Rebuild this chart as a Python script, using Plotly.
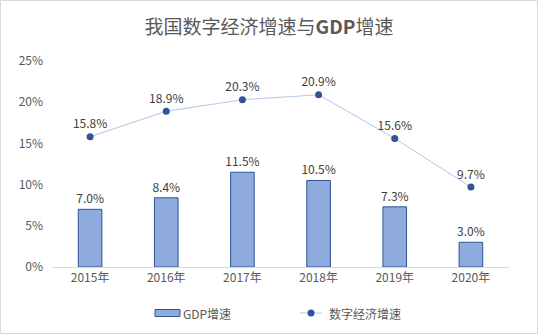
import plotly.graph_objects as go

years = ["2015年", "2016年", "2017年", "2018年", "2019年", "2020年"]
gdp_growth = [7.0, 8.4, 11.5, 10.5, 7.3, 3.0]
digital_growth = [15.8, 18.9, 20.3, 20.9, 15.6, 9.7]
y_ticks = [0, 5, 10, 15, 20, 25]

FONT = "Noto Sans CJK SC, Microsoft YaHei, sans-serif"
W, H = 538, 334
ML, MR, MT, MB = 52, 29, 61, 67
pw, ph = W - ML - MR, H - MT - MB

BAR_FILL, BAR_EDGE = "#8FAADC", "#2F5597"
LINE_COLOR, MARKER_COLOR = "#B4C7E7", "#2F5597"


def px_x(x):
    return (x - ML) / pw


def px_y(y):
    return (H - MB - y) / ph


fig = go.Figure()
fig.add_trace(go.Bar(
    x=years, y=gdp_growth, name="GDP增速",
    marker=dict(color=BAR_FILL, line=dict(color=BAR_EDGE, width=1)),
    width=0.31,
    text=[f"{v:.1f}%" for v in gdp_growth], textposition="outside",
    constraintext="none",
    textfont=dict(size=12, color="#404040", family=FONT),
    cliponaxis=False,
))
fig.add_trace(go.Scatter(
    x=years, y=digital_growth, name="数字经济增速",
    mode="lines+markers+text",
    line=dict(color=LINE_COLOR, width=1),
    marker=dict(color=MARKER_COLOR, size=7),
    text=[f"{v:.1f}%" for v in digital_growth], textposition="top center",
    textfont=dict(size=12, color="#404040", family=FONT),
    cliponaxis=False,
))

# legend drawn as paper-anchored swatches and labels
ly = 313
legend_shapes = [
    dict(type="rect", xref="paper", yref="paper",
         x0=px_x(155), x1=px_x(180), y0=px_y(ly + 3.5), y1=px_y(ly - 3.5),
         fillcolor=BAR_FILL, line=dict(color=BAR_EDGE, width=1)),
    dict(type="line", xref="paper", yref="paper",
         x0=px_x(300), x1=px_x(322), y0=px_y(ly), y1=px_y(ly),
         line=dict(color=LINE_COLOR, width=1)),
    dict(type="circle", xref="paper", yref="paper",
         x0=px_x(307.5), x1=px_x(314.5), y0=px_y(ly + 3.5), y1=px_y(ly - 3.5),
         fillcolor=MARKER_COLOR, line=dict(color=MARKER_COLOR, width=0)),
]
legend_labels = [
    dict(text="GDP增速", x=px_x(181), y=px_y(ly), xref="paper", yref="paper",
         xanchor="left", yanchor="middle", showarrow=False,
         font=dict(size=12, color="#595959", family=FONT)),
    dict(text="数字经济增速", x=px_x(327), y=px_y(ly), xref="paper", yref="paper",
         xanchor="left", yanchor="middle", showarrow=False,
         font=dict(size=12, color="#595959", family=FONT)),
]

fig.update_layout(
    width=W, height=H,
    margin=dict(l=ML, r=MR, t=MT, b=MB, autoexpand=False),
    paper_bgcolor="white", plot_bgcolor="white",
    font=dict(family=FONT, color="#595959", size=12),
    title=dict(text="我国数字经济增速与<b>GDP</b>增速", x=0.5, xanchor="center",
               y=1 - 27 / H, yanchor="middle",
               font=dict(size=19, color="#595959", family=FONT)),
    bargap=0.69,
    showlegend=False,
    annotations=legend_labels,
    shapes=[dict(type="rect", xref="paper", yref="paper",
                 x0=-(ML - 0.5) / pw, x1=1 + (MR - 0.5) / pw,
                 y0=-(MB - 0.5) / ph, y1=1 + (MT - 0.5) / ph,
                 line=dict(color="#D9D9D9", width=1), layer="below")]
           + legend_shapes,
)
fig.update_xaxes(showline=True, linecolor="#D9D9D9", linewidth=1,
                 showgrid=False, ticks="", tickfont=dict(size=12, color="#595959"))
fig.update_yaxes(range=[0, 25], tickvals=y_ticks,
                 ticktext=[f"{t}%" for t in y_ticks],
                 showgrid=False, zeroline=False, showline=False, ticks="",
                 ticklabelstandoff=8,
                 tickfont=dict(size=12, color="#595959"))

fig.write_html("out.html")
